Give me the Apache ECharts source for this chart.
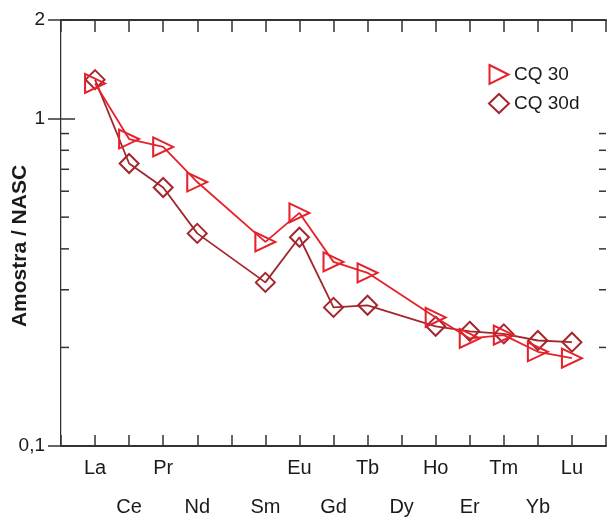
<!DOCTYPE html>
<html><head><meta charset="utf-8">
<script src="https://cdn.jsdelivr.net/npm/echarts@6/dist/echarts.min.js"></script>
<style>html,body{margin:0;padding:0;background:#fff}#c{width:609px;height:517px}</style>
</head><body><div id="c"></div>
<script>
// Element order (position 5 = Pm, not labelled / no data)
const elements = ['La','Ce','Pr','Nd','','Sm','Eu','Gd','Tb','Dy','Ho','Er','Tm','Yb','Lu'];
const elementPos = [1,2,3,4,5,6,7,8,9,10,11,12,13,14,15];
const cq30  = [1.28, 0.866, 0.819, 0.640, null, 0.420, 0.515, 0.365, 0.338, null, 0.247, 0.213, 0.218, 0.194, 0.1855];
const cq30d = [1.315, 0.729, 0.616, 0.446, null, 0.316, 0.434, 0.265, 0.269, null, 0.232, 0.224, 0.220, 0.210, 0.2075];
const seriesNames = ['CQ 30', 'CQ 30d'];
const yTickLabels = {'0.1': '0,1', '1': '1', '2': '2'};
const minorTickValues = [0.2, 0.3, 0.4, 0.5, 0.6, 0.7, 0.8, 0.9];

const RED = '#e6212b';
const DARK = '#a4272e';
const AX = '#333';
const TXT = '#1a1a1a';
const FONT = '"Liberation Sans", Arial, sans-serif';
const triPath = 'path://M0,0L20,10L0,20Z';

function pairs(vals) {
  const out = [];
  vals.forEach((v, i) => { if (v != null) out.push([elementPos[i], v]); });
  return out;
}

const chart = echarts.init(document.getElementById('c'), null, {renderer: 'canvas'});
chart.setOption({
  animation: false,
  backgroundColor: '#fff',
  grid: {left: 61, top: 20, width: 548, height: 427, containLabel: false},
  legend: {
    orient: 'vertical', left: 488, top: 64, padding: 0, itemWidth: 20, itemHeight: 19, itemGap: 8,
    textStyle: {fontFamily: FONT, fontSize: 19, color: TXT, lineHeight: 19},
    data: [
      {name: seriesNames[0], icon: triPath, itemStyle: {color: 'rgba(0,0,0,0)', borderColor: RED, borderWidth: 2}},
      {name: seriesNames[1], icon: 'diamond', itemStyle: {color: 'rgba(0,0,0,0)', borderColor: DARK, borderWidth: 2}}
    ]
  },
  xAxis: [{
    type: 'value', min: 0, max: 16, interval: 1, position: 'bottom',
    axisLine: {lineStyle: {color: AX, width: 2}},
    axisTick: {inside: true, length: 11, lineStyle: {color: AX, width: 1.5}},
    splitLine: {show: false},
    axisLabel: {
      margin: 12,
      formatter: function (v) {
        const i = elementPos.indexOf(v);
        if (i < 0 || !elements[i]) return '';
        return (v % 2 === 1 ? '{a|' : '{b|') + elements[i] + '}';
      },
      rich: {
        a: {fontFamily: FONT, fontSize: 20, color: TXT},
        b: {fontFamily: FONT, fontSize: 20, color: TXT, padding: [39, 0, 0, 0]}
      }
    }
  }, {
    type: 'value', min: 0, max: 16, interval: 1, position: 'top',
    axisLine: {lineStyle: {color: AX, width: 2}},
    axisTick: {inside: true, length: 12, lineStyle: {color: AX, width: 1.5}},
    axisLabel: {show: false}, splitLine: {show: false}
  }],
  yAxis: [{
    type: 'log', logBase: 10, min: 0.1, max: 2, position: 'left',
    axisLine: {show: true, lineStyle: {color: AX, width: 2}},
    axisTick: {inside: true, length: 14, lineStyle: {color: AX, width: 1.5}},
    splitLine: {show: false},
    axisLabel: {
      margin: 16, fontFamily: FONT, fontSize: 19, color: TXT,
      formatter: function (v) {
        const k = String(Math.round(v * 10) / 10);
        return yTickLabels[k] !== undefined ? yTickLabels[k] : '';
      }
    }
  }, {
    type: 'log', logBase: 10, min: 0.1, max: 2, position: 'right',
    axisLine: {show: true, lineStyle: {color: '#c8c8c8', width: 1}},
    axisTick: {inside: true, length: 13, lineStyle: {color: AX, width: 1.5}},
    axisLabel: {show: false}, splitLine: {show: false}
  }],
  graphic: [{
    type: 'text', x: 20, y: 246, rotation: Math.PI / 2,
    style: {text: 'Amostra / NASC', font: 'bold 21px ' + FONT, fill: TXT, align: 'center', verticalAlign: 'middle'}
  }],
  series: [{
    type: 'custom', name: 'minor', silent: true, xAxisIndex: 0, yAxisIndex: 0, z: 1,
    data: minorTickValues.map(v => [0, v]),
    renderItem: function (params, api) {
      const p = api.coord([0, api.value(1)]);
      const cs = params.coordSys;
      return {type: 'group', children: [
        {type: 'line', shape: {x1: cs.x, y1: p[1], x2: cs.x + 8, y2: p[1]}, style: {stroke: AX, lineWidth: 1.5}},
        {type: 'line', shape: {x1: cs.x + cs.width, y1: p[1], x2: cs.x + cs.width - 7, y2: p[1]}, style: {stroke: AX, lineWidth: 1.5}}
      ]};
    }
  }, {
    type: 'line', name: seriesNames[1], xAxisIndex: 0, yAxisIndex: 0, z: 3,
    data: pairs(cq30d),
    symbol: 'diamond', symbolSize: 19,
    lineStyle: {color: DARK, width: 1.8},
    itemStyle: {color: 'rgba(0,0,0,0)', borderColor: DARK, borderWidth: 2}
  }, {
    type: 'line', name: seriesNames[0], xAxisIndex: 0, yAxisIndex: 0, z: 4,
    data: pairs(cq30),
    symbol: triPath, symbolSize: [20, 19],
    lineStyle: {color: RED, width: 1.8},
    itemStyle: {color: 'rgba(0,0,0,0)', borderColor: RED, borderWidth: 2}
  }]
});
</script>
</body></html>
